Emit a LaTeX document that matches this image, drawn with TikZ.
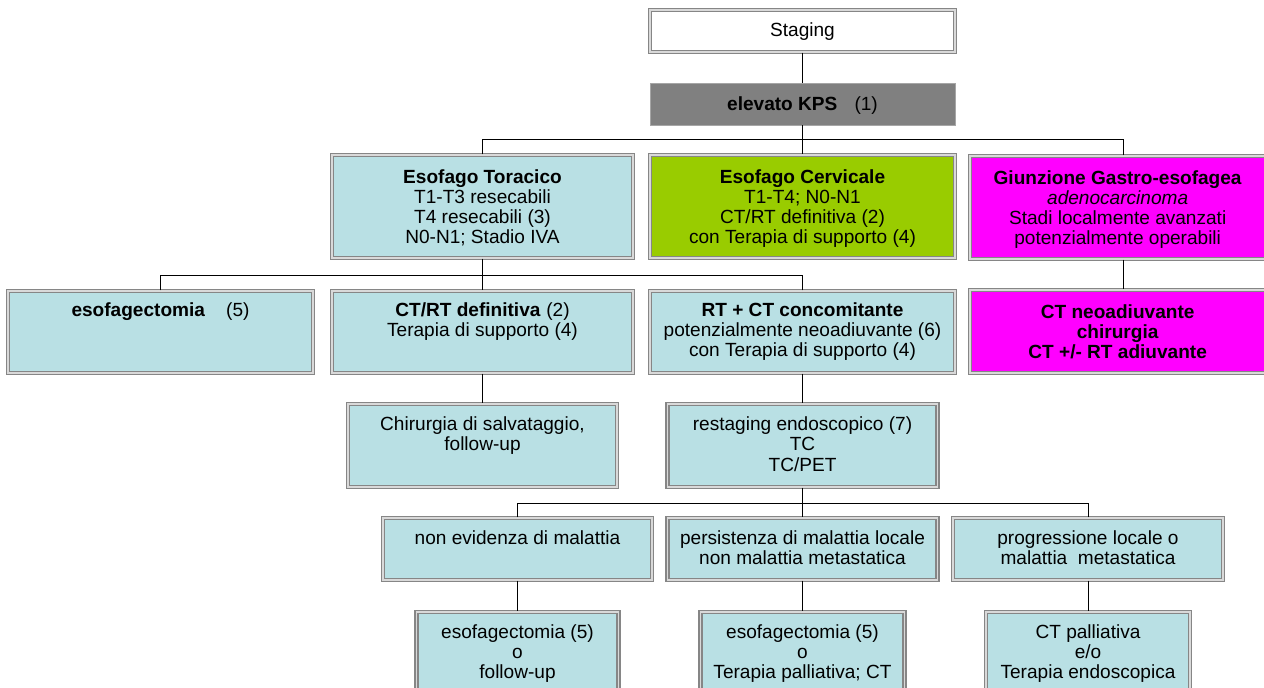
\documentclass[tikz,border=0pt]{standalone}
\usepackage{fontspec}
\setmainfont{Liberation Sans}
\usetikzlibrary{positioning}

\definecolor{boxblue}{RGB}{185,224,228}
\definecolor{cervgreen}{RGB}{153,204,0}
\definecolor{gjmagenta}{RGB}{255,0,255}
\definecolor{kpsgray}{RGB}{128,128,128}

\tikzset{
  box/.style 2 args={draw=gray!95, double=gray!30, double distance=0.9pt, line width=1.1pt,
    fill=boxblue, minimum width=#1*0.75pt, minimum height=#2*0.75pt, inner sep=0pt},
  txt/.style={align=center, inner sep=0pt, font=\fontsize{14.3}{15.2}\selectfont},
  link/.style={draw=black, line width=0.75pt},
}

\begin{document}
\begin{tikzpicture}[x=0.75pt,y=0.75pt,yscale=-1,xscale=1]
\useasboundingbox (0,0) rectangle (1264,688);
\clip (0,0) rectangle (1264,688);

% Boxes
\node[box={305}{42}, fill=white] (stag) at (802.5,31) {};
\node[box={305}{42}, fill=kpsgray, draw=gray!70, line width=0.6pt, double=none] (kps) at (802.5,104) {};
\node[box={301}{103}] (tor) at (482.5,206.5) {};
\node[box={305}{103}, fill=cervgreen] (cerv) at (802.5,206.5) {};
\node[box={306}{103}, fill=gjmagenta] (giun) at (1123,207.5) {};
\node[box={305}{82}] (eso5) at (160.5,332) {};
\node[box={301}{82}] (ctrt) at (482.5,332) {};
\node[box={305}{82}] (rtct) at (802.5,332) {};
\node[box={306}{83}, fill=gjmagenta] (ctneo) at (1123,331.5) {};
\node[box={269}{83}] (chir) at (482.5,445.5) {};
\node[box={270}{83}] (rest) at (802.5,445.5) {};
\node[box={269}{62}] (nonev) at (517.5,549) {};
\node[box={270}{62}] (pers) at (802.5,549) {};
\node[box={270}{62}] (prog) at (1088,549) {};
\node[box={202}{86}] (fu1) at (517.5,655) {};
\node[box={204}{86}] (fu2) at (802.5,655) {};
\node[box={204}{86}] (fu3) at (1088,655) {};

% Texts
\node[txt, below=9.5pt of stag.north] (stag-t) {Staging};
\node[txt, below=10pt of kps.north] (kps-t) {\textbf{elevato KPS}\hspace{0.9em}(1)};
\node[txt, below=11pt of tor.north] (tor-t) {\textbf{Esofago Toracico}\\T1-T3 resecabili\\T4 resecabili (3)\\N0-N1; Stadio IVA};
\node[txt, below=11pt of cerv.north] (cerv-t) {\textbf{Esofago Cervicale}\\T1-T4; N0-N1\\CT/RT definitiva (2)\\con Terapia di supporto (4)};
\node[txt, below=11pt of giun.north, xshift=-4pt] (giun-t) {\textbf{Giunzione Gastro-esofagea}\\\textit{adenocarcinoma}\\Stadi localmente avanzati\\potenzialmente operabili};
\node[txt, below=9pt of eso5.north] (eso5-t) {\textbf{esofagectomia}\hspace{1.1em}(5)};
\node[txt, below=9pt of ctrt.north] (ctrt-t) {\textbf{CT/RT definitiva}\hspace{0.3em}(2)\\Terapia di supporto (4)};
\node[txt, below=9pt of rtct.north] (rtct-t) {\textbf{RT + CT concomitante}\\potenzialmente neoadiuvante (6)\\con Terapia di supporto (4)};
\node[txt, below=11pt of ctneo.north, xshift=-4pt] (ctneo-t) {\textbf{CT neoadiuvante}\\\textbf{chirurgia}\\\textbf{CT +/- RT adiuvante}};
\node[txt, below=10pt of chir.north] (chir-t) {Chirurgia di salvataggio,\\follow-up};
\node[txt, below=10pt of rest.north] (rest-t) {restaging endoscopico (7)\\TC\\TC/PET};
\node[txt, below=10pt of nonev.north] (nonev-t) {non evidenza di malattia};
\node[txt, below=10pt of pers.north] (pers-t) {persistenza di malattia locale\\non malattia metastatica};
\node[txt, below=10pt of prog.north] (prog-t) {progressione locale o\\malattia\ \ metastatica};
\node[txt, below=9.5pt of fu1.north] (fu1-t) {esofagectomia (5)\\o\\follow-up};
\node[txt, below=9.5pt of fu2.north] (fu2-t) {esofagectomia (5)\\o\\Terapia palliativa; CT};
\node[txt, below=9.5pt of fu3.north] (fu3-t) {CT palliativa\\e/o\\Terapia endoscopica};

% Connectors
\coordinate (bus1) at (802.5,140);
\coordinate (bus2) at (482.5,275);
\coordinate (bus3) at (802.5,503);
\draw[link] (stag.south) -- (kps.north);
\draw[link] (kps.south) -- (cerv.north);
\draw[link] (tor.north) |- (bus1);
\draw[link] (giun.north) |- (bus1);
\draw[link] (giun.south) -- (ctneo.north);
\draw[link] (tor.south) -- (ctrt.north);
\draw[link] (eso5.north) |- (bus2);
\draw[link] (rtct.north) |- (bus2);
\draw[link] (ctrt.south) -- (chir.north);
\draw[link] (rtct.south) -- (rest.north);
\draw[link] (rest.south) -- (pers.north);
\draw[link] (nonev.north) |- (bus3);
\draw[link] (prog.north) |- (bus3);
\draw[link] (nonev.south) -- (fu1.north);
\draw[link] (pers.south) -- (fu2.north);
\draw[link] (prog.south) -- (fu3.north);

\end{tikzpicture}
\end{document}
